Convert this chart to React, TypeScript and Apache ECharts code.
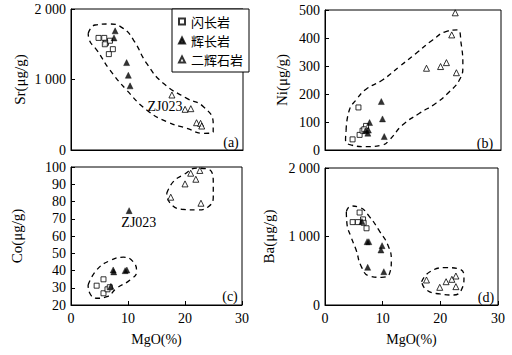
import React, { useEffect, useRef } from "react";
import * as echarts from "echarts";

// ---------- data (MgO %, element µg/g) ----------
const groupNames = ["闪长岩", "辉长岩", "二辉石岩"];
const xTicks = [0, 10, 20, 30];

// (a) Sr
const dioriteA = [[4.8, 1590], [5.8, 1590], [6.1, 1520], [6.8, 1550], [7.3, 1430], [6.6, 1360], [5.9, 1500]];
const gabbroA = [[7.7, 1690], [7.5, 1590], [9.7, 1240], [10.0, 1060], [10.3, 910]];
const websteriteA = [[17.6, 780], [19.9, 577], [20.9, 586], [21.9, 387], [22.6, 378], [22.8, 340]];
const outlineA = [[3.0, 1654], [4.2, 1773], [6.8, 1787], [9.1, 1725], [10.9, 1560], [13.2, 1229], [16.1, 946], [20.2, 733], [23.1, 614], [24.8, 378], [24.8, 260], [23.1, 236], [20.2, 307], [16.7, 402], [13.2, 567], [9.7, 851], [6.8, 1134], [4.5, 1418], [3.2, 1560], [3.0, 1654]];
const noteA = [16.4, 610];

// (b) Ni
const dioriteB = [[4.7, 38], [5.9, 54], [5.7, 152], [6.4, 69], [7.0, 86], [6.7, 74]];
const gabbroB = [[7.6, 98], [7.3, 60], [9.6, 173], [9.8, 111], [10.1, 48], [6.9, 69], [7.4, 71]];
const websteriteB = [[17.3, 292], [19.7, 298], [20.7, 312], [21.6, 411], [22.2, 490], [22.4, 276]];
const outlineB = [[3.6, 71], [4.15, 143], [5.3, 179], [7.0, 217], [9.8, 250], [12.7, 298], [15.5, 345], [18.35, 393], [20.6, 423], [22.6, 429], [23.2, 381], [23.5, 298], [22.9, 250], [21.2, 208], [18.9, 167], [16.1, 131], [13.2, 89], [11.0, 36], [9.8, 18], [7.0, 12], [4.4, 18], [3.5, 36], [3.6, 71]];

// (c) Co
const dioriteC = [[4.5, 31.2], [5.7, 34.9], [5.7, 26.8], [6.4, 29.1], [6.8, 30.3]];
const gabbroC = [[7.4, 40.3], [7.5, 39.2], [9.5, 39.9], [9.8, 40.3], [10.2, 74.7], [7.0, 30.8]];
const websteriteC = [[17.5, 82.5], [20.0, 90.2], [21.0, 96.4], [21.9, 92.9], [22.6, 98], [22.8, 79]];
const outlineC1 = [[3.0, 31.6], [4.5, 40.3], [6.8, 45.7], [9.2, 47.7], [10.9, 45.1], [11.5, 39.3], [10.35, 34.5], [8.0, 29.7], [6.3, 24.8], [4.5, 23.9], [3.3, 26.8], [3.0, 31.6]];
const outlineC2 = [[16.8, 84.8], [17.95, 91.5], [19.7, 95.4], [22.05, 99.3], [24.1, 98.7], [24.96, 90.6], [24.96, 82.8], [24.1, 77], [22.05, 75.1], [19.4, 75.5], [17.4, 79], [16.8, 84.8]];
const noteC = [11.9, 68.1];

// (d) Ba
const dioriteD = [[4.8, 1210], [5.7, 1210], [6.0, 1350], [6.6, 1250], [6.7, 1200], [7.2, 1120]];
const gabbroD = [[7.3, 924], [7.6, 924], [7.4, 550], [9.9, 866], [9.7, 803], [10.2, 486], [6.4, 1220]];
const websteriteD = [[17.6, 365], [19.9, 258], [21.0, 340], [22.0, 375], [22.7, 423], [22.7, 268]];
const outlineD1 = [[3.7, 1363], [4.5, 1445], [6.0, 1426], [7.7, 1290], [9.5, 1071], [10.9, 876], [11.5, 657], [11.2, 462], [9.8, 404], [7.7, 423], [6.3, 560], [5.4, 803], [4.5, 997], [3.8, 1192], [3.7, 1363]];
const outlineD2 = [[16.75, 340], [18.2, 486], [21.1, 545], [23.4, 521], [24.1, 413], [23.7, 229], [22.3, 146], [19.9, 161], [17.6, 219], [16.75, 340]];

const panelTags = ["(a)", "(b)", "(c)", "(d)"];
const yNames = ["Sr(μg/g)", "Ni(μg/g)", "Co(μg/g)", "Ba(μg/g)"];
const xName = "MgO(%)";

const SERIF = "'Liberation Serif', 'DejaVu Serif', serif";
const CJK = "'Noto Sans CJK SC', sans-serif";

const thousands = (v: number) => (v === 0 ? "0" : `${Math.round(v / 1000)} 000`);

export default function App() {
  const ref = useRef<HTMLDivElement>(null);

  useEffect(() => {
    if (!ref.current) return;
    const chart = echarts.init(ref.current, undefined, { renderer: "svg" });

    const grids = [
      { left: 71, top: 9, width: 172, height: 141 },
      { left: 325, top: 10, width: 176, height: 140 },
      { left: 71, top: 167, width: 171, height: 138 },
      { left: 325, top: 168, width: 173, height: 137 },
    ].map((g) => ({ ...g, show: true, borderColor: "#000", borderWidth: 1, backgroundColor: "transparent" }));

    const labelStyle = { fontFamily: SERIF, fontSize: 14, color: "#000" };

    const xAxes = [0, 1, 2, 3].map((i) => ({
      type: "value",
      gridIndex: i,
      min: xTicks[0],
      max: xTicks[xTicks.length - 1],
      interval: 10,
      splitLine: { show: false },
      axisLine: { show: true, lineStyle: { color: "#000", width: 1 } },
      axisTick: { show: i >= 2, inside: true, length: 4, lineStyle: { color: "#000" } },
      axisLabel: { show: i >= 2, margin: 6, ...labelStyle },
      name: i >= 2 ? xName : "",
      nameLocation: "middle",
      nameGap: 27,
      nameTextStyle: { ...labelStyle, fontSize: 14 },
    }));

    const yCfg = [
      { min: 0, max: 2000, interval: 1000, fmt: thousands, gap: 44 },
      { min: 0, max: 500, interval: 100, fmt: (v: number) => `${v}`, gap: 36 },
      { min: 20, max: 100, interval: 10, fmt: (v: number) => `${v}`, gap: 47 },
      { min: 0, max: 2000, interval: 1000, fmt: thousands, gap: 49 },
    ];
    const yAxes = yCfg.map((c, i) => ({
      type: "value",
      gridIndex: i,
      min: c.min,
      max: c.max,
      interval: c.interval,
      splitLine: { show: false },
      axisLine: { show: true, lineStyle: { color: "#000", width: 1 } },
      axisTick: { show: true, inside: true, length: 4, lineStyle: { color: "#000" } },
      axisLabel: { margin: 5, formatter: c.fmt, ...labelStyle },
      name: yNames[i],
      nameLocation: "middle",
      nameRotate: 90,
      nameGap: c.gap,
      nameTextStyle: { ...labelStyle, fontSize: 15 },
    }));

    const groupsByPanel = [
      [dioriteA, gabbroA, websteriteA],
      [dioriteB, gabbroB, websteriteB],
      [dioriteC, gabbroC, websteriteC],
      [dioriteD, gabbroD, websteriteD],
    ];
    const outlinesByPanel = [[outlineA], [outlineB], [outlineC1, outlineC2], [outlineD1, outlineD2]];

    const symbolOf = [
      { symbol: "rect", symbolSize: 5, itemStyle: { color: "#fff", borderColor: "#000", borderWidth: 1 } },
      { symbol: "triangle", symbolSize: 6, itemStyle: { color: "#000", borderColor: "#000", borderWidth: 0.5 } },
      { symbol: "triangle", symbolSize: 6, itemStyle: { color: "#fff", borderColor: "#000", borderWidth: 1 } },
    ];

    const series: any[] = [];
    outlinesByPanel.forEach((outs, p) => {
      outs.forEach((o) => {
        series.push({
          type: "line",
          name: "outline",
          xAxisIndex: p,
          yAxisIndex: p,
          data: o,
          smooth: 0.5,
          showSymbol: false,
          symbol: "none",
          lineStyle: { color: "#000", width: 1.3, type: [5, 4] },
          silent: true,
          z: 1,
        });
      });
    });
    groupsByPanel.forEach((groups, p) => {
      groups.forEach((g, k) => {
        series.push({
          type: "scatter",
          name: groupNames[k],
          xAxisIndex: p,
          yAxisIndex: p,
          data: g,
          ...symbolOf[k],
          z: 3,
        });
      });
    });
    [[noteA, 0], [noteC, 2]].forEach(([pt, p]: any) => {
      series.push({
        type: "scatter",
        name: "note",
        xAxisIndex: p,
        yAxisIndex: p,
        data: [pt],
        symbol: "circle",
        symbolSize: 0,
        itemStyle: { color: "#000", opacity: 1 },
        label: {
          show: true,
          position: "inside",
          formatter: "ZJ023",
          fontFamily: SERIF,
          fontSize: 14,
          color: "#000",
          opacity: 1,
          textBorderWidth: 0,
        },
        emphasis: { disabled: true },
        silent: true,
        z: 4,
      });
    });

    const tagPos = [[231, 142], [485, 143], [230, 296], [486, 297]];
    const graphic = tagPos.map(([x, y], i) => ({
      type: "text",
      x,
      y,
      style: { text: panelTags[i], fontFamily: SERIF, fontSize: 14, fill: "#000", align: "center", verticalAlign: "middle" },
      z: 10,
    }));

    chart.setOption({
      animation: false,
      backgroundColor: "#fff",
      grid: grids,
      xAxis: xAxes,
      yAxis: yAxes,
      legend: {
        left: 172,
        top: 9,
        orient: "vertical",
        data: [
          { name: groupNames[0], icon: "rect" },
          { name: groupNames[1], icon: "triangle" },
          { name: groupNames[2], icon: "triangle" },
        ],
        itemWidth: 6,
        itemHeight: 6,
        itemGap: 6,
        padding: [6, 6, 6, 6],
        borderColor: "#000",
        borderWidth: 1,
        backgroundColor: "#fff",
        textStyle: { fontFamily: CJK, fontSize: 13, color: "#000", padding: [0, 0, 0, 1] },
        selectedMode: false,
      },
      graphic,
      series,
    });

    return () => chart.dispose();
  }, []);

  return (
    <div
      ref={ref}
      style={{ position: "fixed", left: 0, top: 0, width: 512, height: 355, background: "#fff" }}
    />
  );
}
